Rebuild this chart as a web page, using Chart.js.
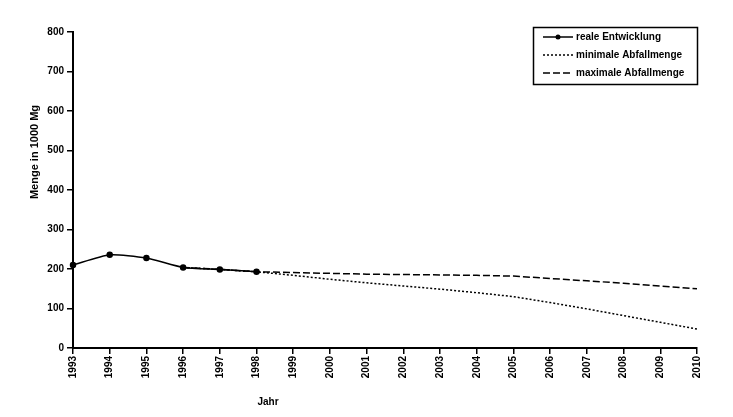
<!DOCTYPE html>
<html>
<head>
<meta charset="utf-8">
<script src="https://cdn.jsdelivr.net/npm/chart.js@4"></script>
<style>
  body { margin: 0; background: #fff; }
  canvas { display: block; }
</style>
</head>
<body>
<canvas id="grafico" width="733" height="417"></canvas>
<script>
// Datos
const jahre = ["1993", "1994", "1995", "1996", "1997", "1998", "1999", "2000", "2001",
  "2002", "2003", "2004", "2005", "2006", "2007", "2008", "2009", "2010"];
const realeEntwicklung = [210, 236, 228, 204, 199, 193, null, null, null,
  null, null, null, null, null, null, null, null, null];
const minimaleMenge = [null, null, null, 204, 199, 193, 184, 174, 165,
  157, 149, 140, 130, 115, 99, 82, 65, 48];
const maximaleMenge = [null, null, null, 204, 199, 193, 191, 189, 187,
  186, 185, 184, 182, 176, 170, 164, 157, 150];
const yTicks = [0, 100, 200, 300, 400, 500, 600, 700, 800];

const FONT = "Liberation Sans, Arial, sans-serif";

// Plugin: títulos de ejes y leyenda con marco
const extras = {
  id: "extras",
  afterDraw(chart) {
    const c = chart.ctx;
    c.save();
    c.fillStyle = "#000";
    c.font = "bold 11px " + FONT;
    // título eje Y
    c.save();
    c.translate(35, 152);
    c.rotate(-Math.PI / 2);
    c.textAlign = "center";
    c.textBaseline = "middle";
    c.fillText("Menge in 1000 Mg", 0, 0);
    c.restore();
    // título eje X
    c.textAlign = "center";
    c.textBaseline = "middle";
    c.font = "bold 10px " + FONT;
    c.fillText("Jahr", 268, 402);

    // leyenda
    c.strokeStyle = "#000";
    c.lineWidth = 1.5;
    c.strokeRect(533.5, 27.5, 164, 57);
    const filas = [37, 55, 73];
    chart.data.datasets.forEach((ds, i) => {
      const y = filas[i];
      c.beginPath();
      c.setLineDash(ds.borderDash || []);
      c.lineWidth = 1.5;
      c.moveTo(543, y);
      c.lineTo(573, y);
      c.stroke();
      c.setLineDash([]);
      if (ds.pointRadius > 0) {
        c.beginPath();
        c.arc(558, y, 2.5, 0, Math.PI * 2);
        c.fill();
      }
      c.font = "bold 10px " + FONT;
      c.textAlign = "left";
      c.textBaseline = "middle";
      c.fillText(ds.label, 576, y);
    });
    c.restore();
  }
};

new Chart(document.getElementById("grafico"), {
  type: "line",
  data: {
    labels: jahre,
    datasets: [
      {
        label: "reale Entwicklung",
        data: realeEntwicklung,
        borderColor: "#000",
        backgroundColor: "#000",
        borderWidth: 1.5,
        pointRadius: 2.5,
        pointStyle: "circle",
        tension: 0.2,
        spanGaps: false
      },
      {
        label: "minimale Abfallmenge",
        data: minimaleMenge,
        borderColor: "#000",
        borderWidth: 1.5,
        borderDash: [2, 2],
        pointRadius: 0,
        tension: 0
      },
      {
        label: "maximale Abfallmenge",
        data: maximaleMenge,
        borderColor: "#000",
        borderWidth: 1.5,
        borderDash: [7, 3],
        pointRadius: 0,
        tension: 0
      }
    ]
  },
  options: {
    responsive: false,
    animation: false,
    devicePixelRatio: 1,
    layout: { padding: { top: 32, right: 36, left: 0, bottom: 0 } },
    plugins: {
      legend: { display: false },
      tooltip: { enabled: false }
    },
    scales: {
      x: {
        offset: false,
        grid: {
          drawOnChartArea: false,
          color: "#000",
          tickLength: 6,
          lineWidth: 1.5
        },
        border: { color: "#000", width: 2 },
        ticks: {
          color: "#000",
          font: { family: FONT, size: 10, weight: "bold" },
          minRotation: 90,
          maxRotation: 90,
          autoSkip: false,
          padding: 2
        },
        afterFit(scale) { scale.height = 69; }
      },
      y: {
        min: 0,
        max: 800,
        afterBuildTicks(scale) {
          scale.ticks = yTicks.map(v => ({ value: v }));
        },
        grid: {
          drawOnChartArea: false,
          color: "#000",
          tickLength: 6,
          lineWidth: 1.5
        },
        border: { color: "#000", width: 2 },
        ticks: {
          color: "#000",
          font: { family: FONT, size: 10, weight: "bold" },
          padding: 3
        },
        afterFit(scale) { scale.width = 73; }
      }
    }
  },
  plugins: [extras]
});
</script>
</body>
</html>
